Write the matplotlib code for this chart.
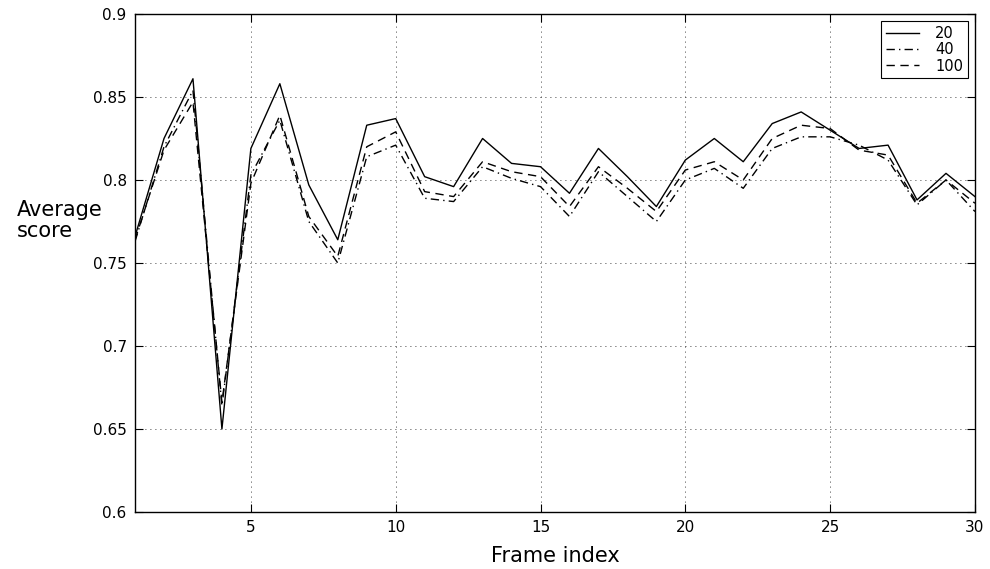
import numpy as np
import matplotlib
matplotlib.use("Agg")
import matplotlib.pyplot as plt

plt.rcParams["font.family"] = ["DejaVu Sans"]

frames = np.arange(1, 31)
score_20 = [0.766, 0.825, 0.861, 0.650, 0.819, 0.858, 0.797, 0.764, 0.833, 0.837,
            0.802, 0.796, 0.825, 0.810, 0.808, 0.792, 0.819, 0.802, 0.784, 0.812,
            0.825, 0.811, 0.834, 0.841, 0.830, 0.819, 0.821, 0.788, 0.804, 0.790]
score_40 = [0.763, 0.820, 0.854, 0.664, 0.803, 0.836, 0.775, 0.750, 0.814, 0.821,
            0.789, 0.787, 0.808, 0.801, 0.796, 0.778, 0.805, 0.790, 0.775, 0.800,
            0.807, 0.795, 0.819, 0.826, 0.826, 0.821, 0.812, 0.785, 0.800, 0.781]
score_100 = [0.764, 0.818, 0.847, 0.666, 0.798, 0.839, 0.778, 0.754, 0.820, 0.829,
             0.793, 0.790, 0.811, 0.805, 0.802, 0.784, 0.808, 0.795, 0.781, 0.806,
             0.811, 0.800, 0.825, 0.833, 0.831, 0.818, 0.815, 0.786, 0.800, 0.786]
labels = ["20", "40", "100"]

fig = plt.figure(figsize=(9.9, 5.69), dpi=100)
ax = fig.add_axes([0.1364, 0.1002, 0.8484, 0.8752])

ax.plot(frames, score_20, color="black", lw=1.0, ls="-", label=labels[0])
ax.plot(frames, score_40, color="black", lw=1.0, ls=(0, (6, 3, 1, 3)), label=labels[1])
ax.plot(frames, score_100, color="black", lw=1.0, ls=(0, (6, 4)), label=labels[2])

ax.set_xlim(1, 30)
ax.set_ylim(0.6, 0.9)
ax.set_xticks([5, 10, 15, 20, 25, 30])
ax.set_yticks([0.6, 0.65, 0.7, 0.75, 0.8, 0.85, 0.9])
ax.set_yticklabels(["0.6", "0.65", "0.7", "0.75", "0.8", "0.85", "0.9"])
ax.tick_params(direction="in", length=6, width=0.8, labelsize=11,
               top=True, right=True, pad=6)
for s in ax.spines.values():
    s.set_linewidth(1.0)

ax.grid(True, color="black", ls=(0, (1, 5)), lw=0.6)

ax.set_xlabel("Frame index", fontsize=15, labelpad=8)
ax.set_ylabel("Average\nscore", fontsize=15, rotation=0, ha="center",
              va="center", multialignment="left", linespacing=1.05)
ax.yaxis.set_label_coords(-0.09, 0.585)

leg = ax.legend(loc="upper right", fontsize=10.5, fancybox=False,
                edgecolor="black", framealpha=1, borderaxespad=0.5,
                handlelength=2.3, handletextpad=1.1, labelspacing=0.1,
                borderpad=0.3)
leg.get_frame().set_linewidth(0.8)

plt.savefig("out.png", dpi=100)
